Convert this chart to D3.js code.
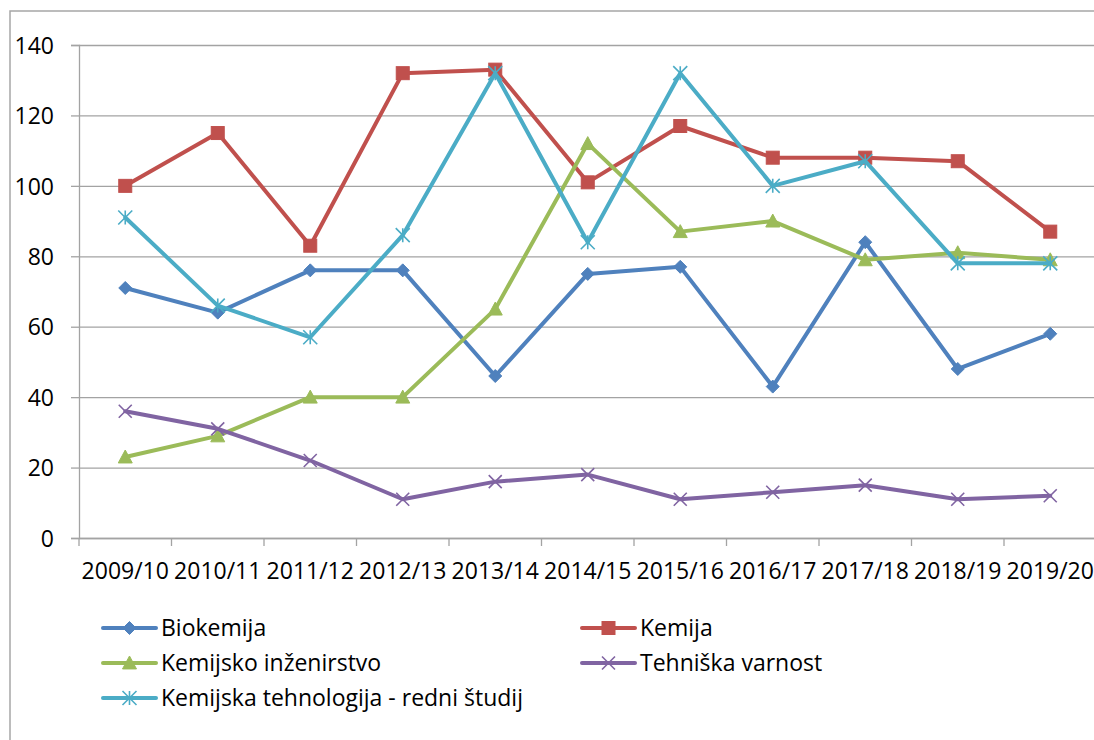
<!DOCTYPE html>
<html>
<head>
<meta charset="utf-8">
<script src="https://cdn.jsdelivr.net/npm/d3@7"></script>
<style>
  html, body { margin: 0; padding: 0; background: #fff; }
  svg { display: block; }
  text { font-family: "Open Sans", "DejaVu Sans", sans-serif; fill: #000; }
</style>
</head>
<body>
<svg id="chart" width="1094" height="740"></svg>
<script>
const categories = ["2009/10","2010/11","2011/12","2012/13","2013/14","2014/15","2015/16","2016/17","2017/18","2018/19","2019/20"];
const yTicks = [0, 20, 40, 60, 80, 100, 120, 140];

const biokemija = [71, 64, 76, 76, 46, 75, 77, 43, 84, 48, 58];
const kemija = [100, 115, 83, 132, 133, 101, 117, 108, 108, 107, 87];
const kemijskoInzenirstvo = [23, 29, 40, 40, 65, 112, 87, 90, 79, 81, 79];
const tehniskaVarnost = [36, 31, 22, 11, 16, 18, 11, 13, 15, 11, 12];
const kemijskaTehnologija = [91, 66, 57, 86, 132, 84, 132, 100, 107, 78, 78];

const seriesNames = ["Biokemija", "Kemija", "Kemijsko inženirstvo", "Tehniška varnost", "Kemijska tehnologija - redni študij"];
const seriesValues = [biokemija, kemija, kemijskoInzenirstvo, tehniskaVarnost, kemijskaTehnologija];
const seriesColors = ["#4F81BD", "#C0504D", "#9BBB59", "#8064A2", "#4BACC6"];
const seriesMarkers = ["diamond", "square", "triangle", "x", "star"];

const series = seriesNames.map((n, i) => ({ name: n, values: seriesValues[i], color: seriesColors[i], marker: seriesMarkers[i] }));

const svg = d3.select("#chart");
const gridColor = "#a3a3a3";
const fontSize = 23;

// Outer chart border
svg.append("rect")
  .attr("x", 10).attr("y", 11)
  .attr("width", 1200).attr("height", 800)
  .attr("fill", "none").attr("stroke", "#a6a6a6").attr("stroke-width", 1.5);

const plotLeft = 79, plotTop = 45, plotBottom = 538;
const band = 92.5;
const x = d3.scaleBand().domain(categories).range([plotLeft, plotLeft + band * categories.length]).padding(0);
const y = d3.scaleLinear().domain([0, 140]).range([plotBottom, plotTop]);

// Gridlines + y tick marks
const yAxis = d3.axisLeft(y).tickValues(yTicks).tickSize(8).tickFormat(d3.format("d"));
const gy = svg.append("g").attr("transform", `translate(${plotLeft},0)`).call(yAxis);
gy.select(".domain").attr("stroke", gridColor).attr("stroke-width", 1.3);
gy.selectAll(".tick line").attr("stroke", gridColor).attr("stroke-width", 1.3);
gy.selectAll(".tick").append("line")
  .attr("x1", 0).attr("x2", 1100 - plotLeft)
  .attr("stroke", gridColor).attr("stroke-width", 1.3);
gy.selectAll(".tick text")
  .attr("x", -25)
  .attr("dy", "0.36em")
  .style("font-size", fontSize + "px")
  .style("font-family", '"Open Sans", sans-serif')
  .attr("fill", "#000");

// X axis
const xAxis = d3.axisBottom(x).tickSize(0).tickSizeOuter(0);
const gx = svg.append("g").attr("transform", `translate(0,${plotBottom})`).call(xAxis);
gx.select(".domain").attr("stroke", gridColor).attr("stroke-width", 1.3);
gx.selectAll(".tick text")
  .attr("y", 41)
  .attr("dy", 0)
  .style("font-size", fontSize + "px")
  .style("font-family", '"Open Sans", sans-serif')
  .attr("fill", "#000");
// x tick marks at band boundaries
const boundaries = categories.map(c => x(c)).concat([x(categories[categories.length - 1]) + x.bandwidth()]);
svg.append("g").selectAll("line").data(boundaries).join("line")
  .attr("x1", d => d).attr("x2", d => d)
  .attr("y1", plotBottom).attr("y2", plotBottom + 8)
  .attr("stroke", gridColor).attr("stroke-width", 1.3);

function drawMarker(g, type, color, cx, cy, scale) {
  const s = scale || 1;
  if (type === "diamond") {
    const r = 6.5 * s;
    g.append("path").attr("d", `M${cx},${cy - r}L${cx + r},${cy}L${cx},${cy + r}L${cx - r},${cy}Z`)
      .attr("fill", color).attr("stroke", color).attr("stroke-width", 1);
  } else if (type === "square") {
    const r = 6.5 * s;
    g.append("rect").attr("x", cx - r).attr("y", cy - r).attr("width", 2 * r).attr("height", 2 * r)
      .attr("fill", color).attr("stroke", color).attr("stroke-width", 1);
  } else if (type === "triangle") {
    const r = 7 * s;
    g.append("path").attr("d", `M${cx},${cy - r}L${cx + r},${cy + r * 0.85}L${cx - r},${cy + r * 0.85}Z`)
      .attr("fill", color).attr("stroke", color).attr("stroke-width", 1);
  } else if (type === "x") {
    const r = 6.5 * s;
    g.append("path").attr("d", `M${cx - r},${cy - r}L${cx + r},${cy + r}M${cx - r},${cy + r}L${cx + r},${cy - r}`)
      .attr("fill", "none").attr("stroke", color).attr("stroke-width", 1.6);
  } else if (type === "star") {
    const r = 7 * s;
    g.append("path").attr("d", `M${cx - r},${cy - r}L${cx + r},${cy + r}M${cx - r},${cy + r}L${cx + r},${cy - r}M${cx},${cy - r}L${cx},${cy + r}`)
      .attr("fill", "none").attr("stroke", color).attr("stroke-width", 1.6);
  }
}

const line = d3.line()
  .x((d, i) => x(categories[i]) + x.bandwidth() / 2)
  .y(d => y(d));

series.forEach(s => {
  const g = svg.append("g");
  g.append("path").datum(s.values)
    .attr("d", line)
    .attr("fill", "none")
    .attr("stroke", s.color)
    .attr("stroke-width", 4)
    .attr("stroke-linejoin", "round")
    .attr("stroke-linecap", "round");
  s.values.forEach((v, i) => {
    drawMarker(g, s.marker, s.color, x(categories[i]) + x.bandwidth() / 2, y(v));
  });
});

// Legend
const legendCols = [103, 582];
const legendRows = [628, 663, 698];
const lineLen = 53;
series.forEach((s, i) => {
  const col = i % 2, row = Math.floor(i / 2);
  const lx = legendCols[col], ly = legendRows[row];
  const g = svg.append("g");
  g.append("line").attr("x1", lx).attr("x2", lx + lineLen).attr("y1", ly).attr("y2", ly)
    .attr("stroke", s.color).attr("stroke-width", 4).attr("stroke-linecap", "round");
  drawMarker(g, s.marker, s.color, lx + lineLen / 2, ly);
  g.append("text").attr("x", lx + lineLen + 5).attr("y", ly).attr("dy", "0.36em")
    .style("font-size", fontSize + "px").text(s.name);
});
</script>
</body>
</html>
